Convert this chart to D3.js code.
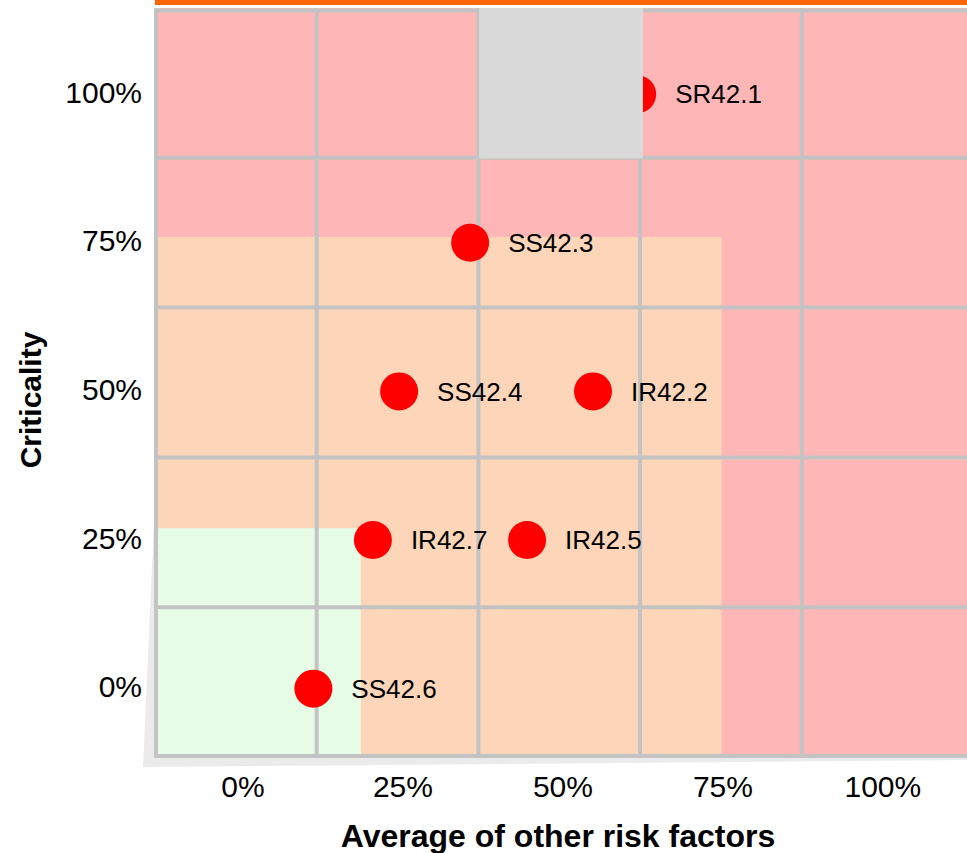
<!DOCTYPE html>
<html>
<head>
<meta charset="utf-8">
<script src="https://cdn.jsdelivr.net/npm/d3@7"></script>
<style>
  body { margin: 0; background: #fff; }
  svg { display: block; font-family: "Liberation Sans", Arial, sans-serif; }
</style>
</head>
<body>
<svg width="967" height="853"></svg>
<script>
// data
var names = ["SR42.1", "SS42.3", "SS42.4", "IR42.2", "IR42.7", "IR42.5", "SS42.6"];
var riskAvg = [0.616, 0.355, 0.244, 0.547, 0.203, 0.444, 0.110];
var criticality = [1.0, 0.75, 0.5, 0.5, 0.25, 0.25, 0.0];
var tickValues = [0, 0.25, 0.5, 0.75, 1];
var tickLabels = ["0%", "25%", "50%", "75%", "100%"];

// background zones, in data units
var zoneNames = ["high", "medium", "low", "excluded"];
var zoneColors = ["#ffb6b6", "#fdd5b8", "#e6fce6", "#dadada"];
var zoneX0 = [-0.14, -0.14, -0.14, 0.369];
var zoneX1 = [1.35, 0.748, 0.184, 0.625];
var zoneY0 = [-0.115, -0.115, -0.115, 0.892];
var zoneY1 = [1.145, 0.76, 0.27, 1.145];

var svg = d3.select("svg"),
    width = 967,
    height = 853;

var pLeft = 155, pRight = 963.5, pTop = 8, pBottom = 757;
var xDom = [-0.1375, 1.126], yDom = [-0.115, 1.145];

var x = d3.scaleLinear().domain(xDom).range([pLeft, pRight]);
var y = d3.scaleLinear().domain(yDom).range([pBottom, pTop]);

// shadow of the plot frame
svg.append("polygon")
  .attr("points", [[155, 500], [155, 757], [967, 757], [967, 760], [143, 767]].join(" "))
  .attr("fill", "#ebebeb");

// orange strip on top
svg.append("rect")
  .attr("x", pLeft).attr("y", 0)
  .attr("width", width - pLeft).attr("height", 5)
  .attr("fill", "#ff6600");

var plot = svg.append("g");

var zones = zoneNames.map(function(n, i) {
  return {name: n, color: zoneColors[i], x0: zoneX0[i], x1: zoneX1[i], y0: zoneY0[i], y1: zoneY1[i]};
});

function zoneRect(sel) {
  sel.attr("x", function(d) { return Math.max(pLeft, x(d.x0)); })
    .attr("y", function(d) { return Math.max(pTop, y(d.y1)); })
    .attr("width", function(d) { return Math.min(width, x(d.x1)) - Math.max(pLeft, x(d.x0)); })
    .attr("height", function(d) { return Math.min(pBottom, y(d.y0)) - Math.max(pTop, y(d.y1)); })
    .attr("fill", function(d) { return d.color; });
}

plot.selectAll(".zone")
  .data(zones.slice(0, 3))
  .enter().append("rect")
  .attr("class", "zone")
  .call(zoneRect);

// grid: plot domain split in 5 equal parts each way
var gridX = d3.range(1, 5).map(function(i) { return xDom[0] + (xDom[1] - xDom[0]) * i / 5; });
var gridY = d3.range(1, 5).map(function(i) { return yDom[0] + (yDom[1] - yDom[0]) * i / 5; });

var grid = plot.append("g").attr("stroke", "#c3c3c3").attr("stroke-width", 4);

grid.selectAll(".gx")
  .data(gridX)
  .enter().append("line")
  .attr("x1", function(d) { return x(d); })
  .attr("x2", function(d) { return x(d); })
  .attr("y1", pTop).attr("y2", pBottom);

grid.selectAll(".gy")
  .data(gridY)
  .enter().append("line")
  .attr("x1", pLeft).attr("x2", width)
  .attr("y1", function(d) { return y(d); })
  .attr("y2", function(d) { return y(d); });

// frame: top, left, bottom
grid.append("line").attr("x1", pLeft).attr("x2", width).attr("y1", pTop + 2.5).attr("y2", pTop + 2.5);
grid.append("line").attr("x1", pLeft + 1).attr("x2", pLeft + 1).attr("y1", pTop).attr("y2", pBottom + 1);
grid.append("line").attr("x1", pLeft).attr("x2", width).attr("y1", pBottom - 1).attr("y2", pBottom - 1);

// points
var points = names.map(function(n, i) { return {name: n, x: riskAvg[i], y: criticality[i]}; });

plot.selectAll(".dot")
  .data(points)
  .enter().append("circle")
  .attr("class", "dot")
  .attr("cx", function(d) { return x(d.x); })
  .attr("cy", function(d) { return y(d.y); })
  .attr("r", 19)
  .attr("fill", "#ff0000");

// grey box sits over the grid and dots
plot.selectAll(".zone2")
  .data(zones.slice(3))
  .enter().append("rect")
  .attr("class", "zone2")
  .call(zoneRect);

plot.selectAll(".lbl")
  .data(points)
  .enter().append("text")
  .attr("class", "lbl")
  .attr("x", function(d) { return x(d.x) + 38; })
  .attr("y", function(d) { return y(d.y); })
  .attr("dy", "0.35em")
  .attr("font-size", 26)
  .attr("fill", "#000")
  .text(function(d) { return d.name; });

// axis tick labels
svg.selectAll(".xt")
  .data(tickValues)
  .enter().append("text")
  .attr("class", "xt")
  .attr("x", function(d) { return x(d); })
  .attr("y", 797)
  .attr("text-anchor", "middle")
  .attr("font-size", 30)
  .text(function(d, i) { return tickLabels[i]; });

svg.selectAll(".yt")
  .data(tickValues)
  .enter().append("text")
  .attr("class", "yt")
  .attr("x", 142)
  .attr("y", function(d) { return y(d) - 2; })
  .attr("dy", "0.35em")
  .attr("text-anchor", "end")
  .attr("font-size", 30)
  .text(function(d, i) { return tickLabels[i]; });

// axis titles
svg.append("text")
  .attr("x", 558)
  .attr("y", 847)
  .attr("text-anchor", "middle")
  .attr("font-size", 32)
  .attr("font-weight", "bold")
  .text("Average of other risk factors");

svg.append("text")
  .attr("transform", "translate(41,400) rotate(-90)")
  .attr("text-anchor", "middle")
  .attr("font-size", 30)
  .attr("font-weight", "bold")
  .text("Criticality");
</script>
</body>
</html>
